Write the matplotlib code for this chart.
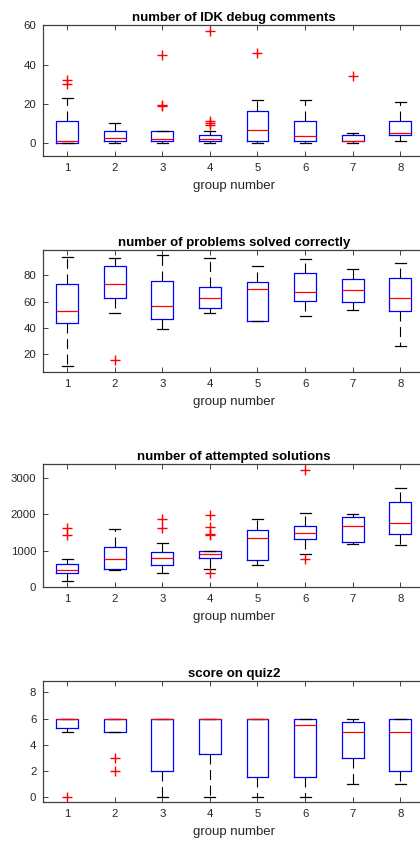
import matplotlib
matplotlib.use('Agg')
from matplotlib import pyplot as plt

plt.rcParams['font.family'] = ['Liberation Sans', 'DejaVu Sans']

groups = [1, 2, 3, 4, 5, 6, 7, 8]

# number of IDK debug comments
idk_med = [1, 2.5, 2, 2, 6.5, 3.5, 1, 5]
idk_q1 = [0, 1, 1, 1, 1, 1, 1, 4]
idk_q3 = [11, 6, 6, 4, 16.5, 11.5, 4.3, 11]
idk_lo = [0, 0, 0, 0, 0, 0, 0, 1]
idk_hi = [23, 10, 6, 6, 22, 22, 5, 21]
idk_fl = [[30, 32], [], [19, 19.3, 45], [9, 10, 11, 57], [46], [], [34], []]

# number of problems solved correctly
sol_med = [53, 73, 57, 63, 69.5, 67, 69, 63]
sol_q1 = [43.5, 63, 47, 55.5, 45.5, 60.5, 60, 52.5]
sol_q3 = [73, 87, 75.5, 71, 75, 82, 77.5, 78]
sol_lo = [11, 51, 39, 51, 45, 49, 54, 26]
sol_hi = [94, 93, 95, 93, 87, 92, 85, 89]
sol_fl = [[], [16], [], [], [], [], [], []]

# number of attempted solutions
att_med = [470, 766, 782, 892, 1345, 1493, 1680, 1750]
att_q1 = [383, 495, 602, 782, 735, 1321, 1231, 1458]
att_q3 = [618, 1098, 957, 990, 1559, 1660, 1912, 2342]
att_lo = [160, 455, 383, 490, 590, 900, 1190, 1157]
att_hi = [766, 1603, 1203, 1000, 1869, 2024, 2005, 2705]
att_fl = [[1420, 1630], [], [1622, 1860], [383, 1420, 1460, 1640, 1965], [], [780, 3200], [], []]

# score on quiz2
qz_med = [6, 6, 6, 6, 6, 5.5, 5, 5]
qz_q1 = [5.25, 5, 2, 3.25, 1.5, 1.5, 3, 2]
qz_q3 = [6, 6, 6, 6, 6, 6, 5.75, 6]
qz_lo = [5, 5, 0, 0, 0, 0, 1, 1]
qz_hi = [6, 6, 6, 6, 6, 6, 6, 6]
qz_fl = [[0], [2, 3], [], [], [], [], [], []]

panels = [
    ("number of IDK debug comments", idk_med, idk_q1, idk_q3, idk_lo, idk_hi, idk_fl,
     (-6.6, 60.2), [0, 20, 40, 60]),
    ("number of problems solved correctly", sol_med, sol_q1, sol_q3, sol_lo, sol_hi, sol_fl,
     (6.6, 99.2), [20, 40, 60, 80]),
    ("number of attempted solutions", att_med, att_q1, att_q3, att_lo, att_hi, att_fl,
     (-10, 3370), [0, 1000, 2000, 3000]),
    ("score on quiz2", qz_med, qz_q1, qz_q3, qz_lo, qz_hi, qz_fl,
     (-0.43, 8.9), [0, 2, 4, 6, 8]),
]

# axes rectangles in figure fractions (the right edge runs past the figure, as in the original)
rects = [
    [0.1029, 0.8145, 0.907, 0.1558],
    [0.1029, 0.5577, 0.907, 0.1451],
    [0.1029, 0.3017, 0.907, 0.1463],
    [0.1029, 0.0460, 0.907, 0.1446],
]

axcol = '#404040'
fig = plt.figure(figsize=(4.2, 8.41), dpi=100)

for (title, med, q1, q3, lo, hi, fl, ylim, yticks), rect in zip(panels, rects):
    ax = fig.add_axes(rect)
    stats = []
    for i in range(len(groups)):
        stats.append(dict(med=med[i], q1=q1[i], q3=q3[i], whislo=lo[i], whishi=hi[i], fliers=fl[i]))
    ax.bxp(stats, positions=groups, widths=0.46, showfliers=True,
           boxprops=dict(color='blue', linewidth=0.9),
           medianprops=dict(color='red', linewidth=0.9),
           whiskerprops=dict(color='black', linewidth=0.8, linestyle=(0, (9, 5))),
           capprops=dict(color='black', linewidth=0.9),
           flierprops=dict(marker='+', markeredgecolor='red', markersize=6.5, markeredgewidth=1.0))
    ax.set_xlim(0.5, 8.5)
    ax.set_ylim(*ylim)
    ax.set_xticks(groups)
    ax.set_xticklabels([str(g) for g in groups])
    ax.set_yticks(yticks)
    ax.tick_params(direction='in', top=True, right=False, length=3.5, width=0.7,
                   color=axcol, labelcolor='#262626', labelsize=8.2, pad=5)
    for s in ax.spines.values():
        s.set_color(axcol)
        s.set_linewidth(0.9)
    ax.set_title(title, fontsize=9.5, fontweight='bold', pad=3)
    ax.set_xlabel('group number', fontsize=9.5, color='#262626', labelpad=5)

fig.savefig('out.png', dpi=100)
